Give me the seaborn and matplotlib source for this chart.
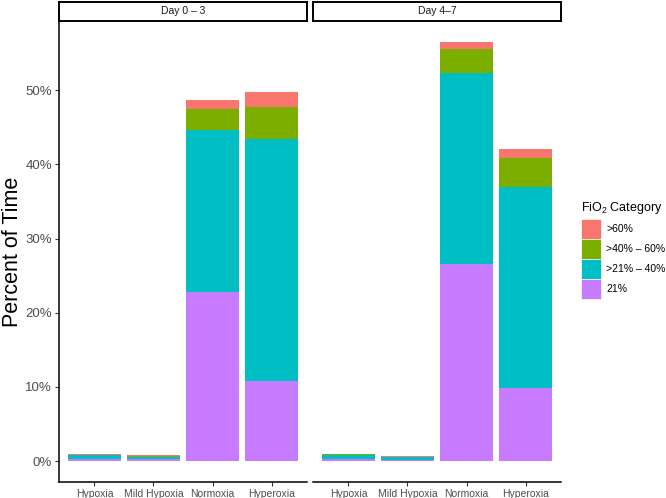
import matplotlib
matplotlib.use('Agg')
import pandas as pd
import seaborn as sns
from matplotlib import pyplot as plt
from matplotlib.patches import Patch

CONDITIONS = ['Hypoxia', 'Mild Hypoxia', 'Normoxia', 'Hyperoxia']
DAYS = ['Day 0 \u2013 3', 'Day 4\u20137']
FIO2 = ['21%', '>21% \u2013 40%', '>40% \u2013 60%', '>60%']
COLORS = ['#C77CFF', '#00BFC4', '#7CAE00', '#F8766D']

# percent of time, one list per FiO2 category, order of CONDITIONS
DAY03_21 = [0.30, 0.25, 22.8, 10.8]
DAY03_21_40 = [0.45, 0.35, 21.85, 32.55]
DAY03_40_60 = [0.12, 0.10, 2.85, 4.35]
DAY03_60 = [0.10, 0.06, 1.2, 2.1]

DAY47_21 = [0.30, 0.20, 26.6, 9.85]
DAY47_21_40 = [0.50, 0.30, 25.7, 27.05]
DAY47_40_60 = [0.12, 0.08, 3.2, 4.0]
DAY47_60 = [0.08, 0.05, 1.0, 1.2]

Y_TICKS = [0, 10, 20, 30, 40, 50]
Y_LABELS = ['0%', '10%', '20%', '30%', '40%', '50%']


def build_frame():
    rows = []
    series = {DAYS[0]: [DAY03_21, DAY03_21_40, DAY03_40_60, DAY03_60],
              DAYS[1]: [DAY47_21, DAY47_21_40, DAY47_40_60, DAY47_60]}
    for day, layers in series.items():
        for cat, vals in zip(FIO2, layers):
            for cond, v in zip(CONDITIONS, vals):
                rows.append({'Day': day, 'Condition': cond, 'FiO2': cat, 'Percent': v})
    df = pd.DataFrame(rows)
    df['FiO2'] = pd.Categorical(df['FiO2'], categories=FIO2, ordered=True)
    df['Condition'] = pd.Categorical(df['Condition'], categories=CONDITIONS, ordered=True)
    df = df.sort_values(['Day', 'Condition', 'FiO2'])
    df['Top'] = df.groupby(['Day', 'Condition'], observed=True)['Percent'].cumsum()
    return df


def main():
    plt.rcParams['font.family'] = ['Liberation Sans', 'DejaVu Sans']
    plt.rcParams['mathtext.default'] = 'regular'
    df = build_frame()

    ymax = df['Top'].max()
    pad = ymax * 0.05

    W, H = 666, 498
    fig = plt.figure(figsize=(W / 100, H / 100), dpi=100)
    lefts = [59, 313]
    pw = 248
    top, bottom = 21, 482

    for i, day in enumerate(DAYS):
        ax = fig.add_axes([lefts[i] / W, 1 - bottom / H, pw / W, (bottom - top) / H])
        sub = df[df['Day'] == day]
        # draw cumulative tops from the outermost layer inward
        for cat, col in reversed(list(zip(FIO2, COLORS))):
            layer = sub[sub['FiO2'] == cat]
            sns.barplot(data=layer, x='Condition', y='Top', order=CONDITIONS,
                        color=col, width=0.9, saturation=1, errorbar=None,
                        linewidth=0, ax=ax)
        ax.set_xlim(-0.6, 3.6)
        ax.set_ylim(-pad, ymax + pad)
        ax.set_xlabel('')
        ax.set_ylabel('')
        for s in ('top', 'right'):
            ax.spines[s].set_visible(False)
        ax.spines['bottom'].set_linewidth(1.1)
        ax.spines['left'].set_linewidth(1.1)
        ax.tick_params(axis='x', length=3, width=0.8, color='#333333',
                       labelsize=7.5, labelcolor='#4D4D4D', pad=2)
        if i == 0:
            ax.set_yticks(Y_TICKS)
            ax.set_yticklabels(Y_LABELS)
            ax.tick_params(axis='y', length=3, width=0.8, color='#333333',
                           labelsize=9.5, labelcolor='#4D4D4D', pad=2)
            ax.set_ylabel('Percent of Time', fontsize=15.5, labelpad=2)
        else:
            ax.spines['left'].set_visible(False)
            ax.set_yticks([])

        sax = fig.add_axes([lefts[i] / W, 1 - top / H, pw / W, (top - 2) / H])
        sax.set_xticks([])
        sax.set_yticks([])
        for s in sax.spines.values():
            s.set_linewidth(1.4)
            s.set_color('black')
        sax.text(0.5, 0.5, day, ha='center', va='center', fontsize=7.5,
                 color='#1A1A1A', transform=sax.transAxes)

    handles = [Patch(facecolor=c, edgecolor='white', linewidth=0.5, label=l)
               for l, c in reversed(list(zip(FIO2, COLORS)))]
    leg = fig.legend(handles=handles, title='FiO$_2$ Category', loc='upper left',
                     bbox_to_anchor=(576 / W, 1 - 195 / H), frameon=False,
                     fontsize=7.5, title_fontsize=9, handlelength=1.9,
                     handleheight=2.58, labelspacing=0, handletextpad=0.5,
                     borderpad=0, alignment='left')
    leg._legend_box.sep = 2

    fig.savefig('out.png', dpi=100)


if __name__ == '__main__':
    main()
